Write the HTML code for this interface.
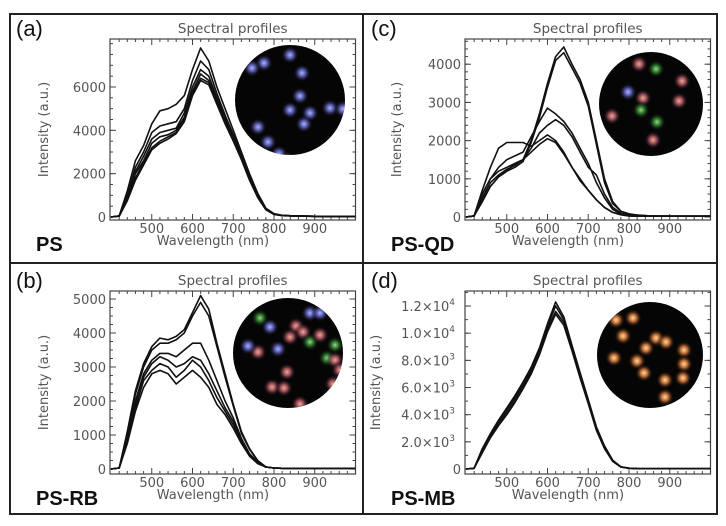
<!DOCTYPE html>
<html><head><meta charset="utf-8"><style>
html,body{margin:0;padding:0;background:#fff;width:726px;height:526px;overflow:hidden}
svg{display:block;font-family:"DejaVu Sans","Liberation Sans",sans-serif}
</style></head><body>
<svg id="fig" width="726" height="526" viewBox="0 0 726 526">
<defs>
<radialGradient id="gB"><stop offset="0" stop-color="#a8bcff"/><stop offset="0.4" stop-color="#6a6ad0" stop-opacity="0.8"/><stop offset="1" stop-color="#000" stop-opacity="0"/></radialGradient>
<radialGradient id="gP"><stop offset="0" stop-color="#f0b090"/><stop offset="0.4" stop-color="#c06070" stop-opacity="0.8"/><stop offset="1" stop-color="#000" stop-opacity="0"/></radialGradient>
<radialGradient id="gG"><stop offset="0" stop-color="#a0e080"/><stop offset="0.4" stop-color="#40a040" stop-opacity="0.7"/><stop offset="1" stop-color="#000" stop-opacity="0"/></radialGradient>
<radialGradient id="gO"><stop offset="0" stop-color="#ffe0a0"/><stop offset="0.4" stop-color="#e08040" stop-opacity="0.85"/><stop offset="1" stop-color="#000" stop-opacity="0"/></radialGradient>
</defs>
</svg>
<script>
const wl=[400,420,440,460,480,500,520,540,560,580,600,620,640,660,680,700,720,740,760,780,800,820,850,900,950,1000];
const psA=[
[0,50,1200,2600,3300,4300,4900,5000,5200,5600,6800,7800,7200,6000,5000,4000,3000,2000,1100,400,150,80,50,30,20,20],
[0,50,1000,2300,3000,3900,4200,4300,4400,5000,6300,7200,6800,5700,4700,3800,2900,1900,1000,380,140,70,50,30,20,20],
[0,40,900,2100,2800,3600,3900,4000,4100,4800,6000,6800,6500,5500,4600,3700,2800,1850,980,360,140,70,50,30,20,20],
[0,40,850,2000,2600,3400,3700,3800,4000,4600,5800,6600,6300,5400,4500,3600,2750,1800,950,350,130,70,50,30,20,20],
[0,40,800,1800,2500,3200,3500,3700,3900,4500,5700,6400,6200,5300,4400,3550,2700,1750,930,340,130,70,50,30,20,20],
[0,40,750,1700,2400,3100,3400,3600,3850,4400,5600,6300,6100,5200,4300,3500,2650,1700,900,330,120,60,40,30,20,20]];
const psQD=[
[0,30,500,900,1100,1250,1350,1500,2000,2700,3500,4200,4450,4000,3600,3000,2000,1000,400,150,80,50,30,20,20,20],
[0,30,400,800,1050,1200,1300,1450,1950,2600,3400,4100,4300,3900,3500,2900,1900,900,350,150,80,50,30,20,20,20],
[0,30,600,1000,1300,1500,1600,1700,2100,2500,2850,2700,2500,2200,1800,1400,900,500,200,80,50,30,20,20,20,20],
[0,30,450,800,1050,1200,1400,1500,1800,2200,2400,2550,2400,2100,1700,1300,1100,600,250,100,50,30,20,20,20,20],
[0,30,700,1300,1800,1950,1950,1950,1850,2000,2150,2000,1700,1300,1000,700,450,250,120,60,30,20,20,20,20,20],
[0,30,600,1000,1200,1300,1400,1500,1700,1900,2050,1950,1650,1300,950,700,450,250,120,60,30,20,20,20,20,20]];
const psRB=[
[0,30,1100,2300,3100,3600,3850,3800,3900,4100,4600,5100,4700,3700,2800,1900,1100,600,250,60,30,20,20,20,20,20],
[0,30,1000,2200,3000,3500,3700,3700,3800,4000,4500,4900,4500,3600,2700,1850,1050,580,240,60,30,20,20,20,20,20],
[0,30,900,2000,2800,3200,3400,3400,3300,3500,3700,3700,3200,2600,2000,1500,900,450,200,60,30,20,20,20,20,20],
[0,30,850,1900,2700,3100,3300,3200,3000,3100,3300,3200,2800,2300,1800,1400,850,420,180,60,30,20,20,20,20,20],
[0,30,800,1800,2600,2900,3100,3000,2700,2900,3200,3000,2600,2100,1700,1300,800,400,180,60,30,20,20,20,20,20],
[0,30,750,1700,2400,2800,2900,2800,2500,2700,2900,2700,2400,1900,1600,1200,750,380,160,60,30,20,20,20,20,20]];
const psMB=[
[0,50,1500,2600,3600,4500,5400,6400,7500,8900,10700,12300,11200,9100,7100,5100,3100,1700,650,160,60,30,20,20,20,20],
[0,50,1400,2500,3500,4400,5300,6300,7400,8800,10500,12000,11000,9000,7000,5000,3000,1600,600,150,60,30,20,20,20,20],
[0,50,1300,2400,3300,4200,5100,6100,7200,8600,10300,11600,10800,8800,6800,4900,2900,1550,580,150,60,30,20,20,20,20],
[0,50,1200,2300,3200,4000,4900,5900,7000,8400,10100,11400,10600,8700,6700,4800,2850,1500,560,140,60,30,20,20,20,20]];
const xTicks=[500,600,700,800,900];
const yTicksA=[0,2000,4000,6000];
const yTicksB=[0,1000,2000,3000,4000,5000];
const yTicksC=[0,1000,2000,3000,4000];
const yTicksD=[0,2000,4000,6000,8000,10000,12000];
const yLabelsD=["0","2.0×10|3","4.0×10|3","6.0×10|3","8.0×10|3","1.0×10|4","1.2×10|4"];

const NS="http://www.w3.org/2000/svg";
const svg=document.getElementById('fig');
function el(tag,attrs,parent){const e=document.createElementNS(NS,tag);for(const k in attrs)e.setAttribute(k,attrs[k]);(parent||svg).appendChild(e);return e;}

const frame=el('g',{stroke:'#222','stroke-width':2,fill:'none'});


el('rect',{x:10,y:14,width:707,height:500},frame);
el('line',{x1:363,y1:14,x2:363,y2:514},frame);
el('line',{x1:10,y1:263,x2:717,y2:263},frame);

const panels=[
{id:'a',name:'PS',x0:110,top:39,bot:220,zero:217,k:0.02167,data:psA,ticks:yTicksA,labels:null,minor:500,ytx:48,
 inset:[290,100,55],dots:[['gB',264,63],['gB',290,55],['gB',302,73],['gB',300,96],['gB',290,110],['gB',310,113],['gB',330,108],['gB',343,109],['gB',304,124],['gB',258,127],['gB',268,142],['gB',279,154],['gP',287,160],['gB',252,68]]},
{id:'b',name:'PS-RB',x0:110,top:291,bot:474,zero:469,k:0.034,data:psRB,ticks:yTicksB,labels:null,minor:250,ytx:48,
 inset:[288,353,55],dots:[['gG',260,318],['gB',270,327],['gP',296,326],['gB',310,313],['gB',320,313],['gP',303,332],['gG',310,342],['gP',320,335],['gG',342,320],['gB',350,330],['gG',335,345],['gP',258,352],['gB',278,349],['gP',290,337],['gG',327,358],['gP',335,360],['gP',340,370],['gB',343,380],['gP',333,384],['gP',287,372],['gP',272,387],['gP',284,388],['gP',300,404],['gB',248,346]]},
{id:'c',name:'PS-QD',x0:465,top:39,bot:220,zero:217,k:0.0382,data:psQD,ticks:yTicksC,labels:null,minor:200,ytx:401,
 inset:[651,104,52],dots:[['gP',639,64],['gG',656,69],['gP',682,81],['gB',628,92],['gP',643,98],['gP',679,101],['gG',641,110],['gP',612,116],['gG',657,122],['gP',653,140]]},
{id:'d',name:'PS-MB',x0:465,top:291,bot:474,zero:469,k:0.01358,data:psMB,ticks:yTicksD,labels:yLabelsD,minor:1000,ytx:380,
 inset:[650,355,53],dots:[['gO',616,320],['gO',633,318],['gO',623,336],['gO',656,338],['gO',666,342],['gO',646,348],['gO',684,350],['gO',614,358],['gO',637,361],['gO',684,364],['gO',644,373],['gO',665,380],['gO',683,378],['gO',665,397]]}
];

panels.forEach(p=>{
  const g=el('g',{});
  
  
  const xs=w=>p.x0+1+(w-400)*0.4075;
  const ys=v=>p.zero-v*p.k;
  const right=xs(1000);
  const cx=(p.x0+right)/2;
  const t=el('text',{x:cx,y:p.top-6,'text-anchor':'middle','font-size':13.5,fill:'#555'},g);
  t.textContent='Spectral profiles';
  
  
  const pl=el('text',{x:p.x0-94,y:p.top-3,'font-size':22,fill:'#111','font-family':'Liberation Sans, sans-serif'},g);
  pl.textContent='('+p.id+')';
  
  
  const nm=el('text',{x:p.x0-74,y:p.bot+31,'font-size':20,'font-weight':'bold',fill:'#111','font-family':'Liberation Sans, sans-serif'},g);
  nm.textContent=p.name;
  
  
  const ins=el('g',{},g);
  
  
  const cp='cp'+p.id;
  const cpe=el('clipPath',{id:cp},ins);
  el('circle',{cx:p.inset[0],cy:p.inset[1],r:p.inset[2]},cpe);
  el('circle',{cx:p.inset[0],cy:p.inset[1],r:p.inset[2],fill:'#050505'},ins);
  const dg=el('g',{'clip-path':'url(#'+cp+')'},ins);
  p.dots.forEach(d=>{const c=el('circle',{cx:d[1],cy:d[2],r:9,fill:'url(#'+d[0]+')'},dg);
    
    });
  const box=el('rect',{x:p.x0,y:p.top,width:right-p.x0,height:p.bot-p.top,fill:'none',stroke:'#444','stroke-width':1.2},g);
  
  
  for(let w=420;w<1000;w+=20){const x=xs(w);const L=(w%100===0)?6:3;
    el('line',{x1:x,y1:p.bot,x2:x,y2:p.bot-L,stroke:'#444'},g);
    el('line',{x1:x,y1:p.top,x2:x,y2:p.top+L,stroke:'#444'},g);}
  xTicks.forEach(w=>{const tx=el('text',{x:xs(w),y:p.bot+13,'text-anchor':'middle','font-size':13,fill:'#555'},g);
    tx.textContent=w;
    
    });
  const xt=el('text',{x:xs(650),y:p.bot+25,'text-anchor':'middle','font-size':13,fill:'#555'},g);
  xt.textContent='Wavelength (nm)';
  
  
  const ymax=(p.zero-p.top)/p.k;
  for(let v=p.minor;v<ymax;v+=p.minor){const y=ys(v);
    el('line',{x1:p.x0,y1:y,x2:p.x0+3,y2:y,stroke:'#444'},g);
    el('line',{x1:right,y1:y,x2:right-3,y2:y,stroke:'#444'},g);}
  p.ticks.forEach((v,i)=>{const y=ys(v);
    el('line',{x1:p.x0,y1:y,x2:p.x0+6,y2:y,stroke:'#444'},g);
    el('line',{x1:right,y1:y,x2:right-6,y2:y,stroke:'#444'},g);
    const ty=el('text',{x:p.x0-4,y:y+5,'text-anchor':'end','font-size':13,fill:'#555'},g);
    
    
    if(p.labels&&p.labels[i].includes('|')){const parts=p.labels[i].split('|');
      ty.setAttribute('x',p.x0-10);
      ty.textContent=parts[0];
      const sp=el('tspan',{dy:-6,'font-size':9},ty);sp.textContent=parts[1];
    } else ty.textContent=p.labels?p.labels[i]:v;});
  const yt=el('text',{x:p.ytx,y:(p.top+p.bot)/2,'text-anchor':'middle','font-size':13,fill:'#555',transform:'rotate(-90 '+p.ytx+' '+(p.top+p.bot)/2+')'},g);
  yt.textContent='Intensity (a.u.)';
  
  
  p.data.forEach((s,si)=>{
    const d=s.map((v,i)=>(i?'L':'M')+xs(wl[i]).toFixed(1)+','+ys(v).toFixed(1)).join('');
    const pa=el('path',{d:d,fill:'none',stroke:'#111','stroke-width':1.6,'stroke-linejoin':'round'},g);
    
    
  });
});
</script>
</body></html>
